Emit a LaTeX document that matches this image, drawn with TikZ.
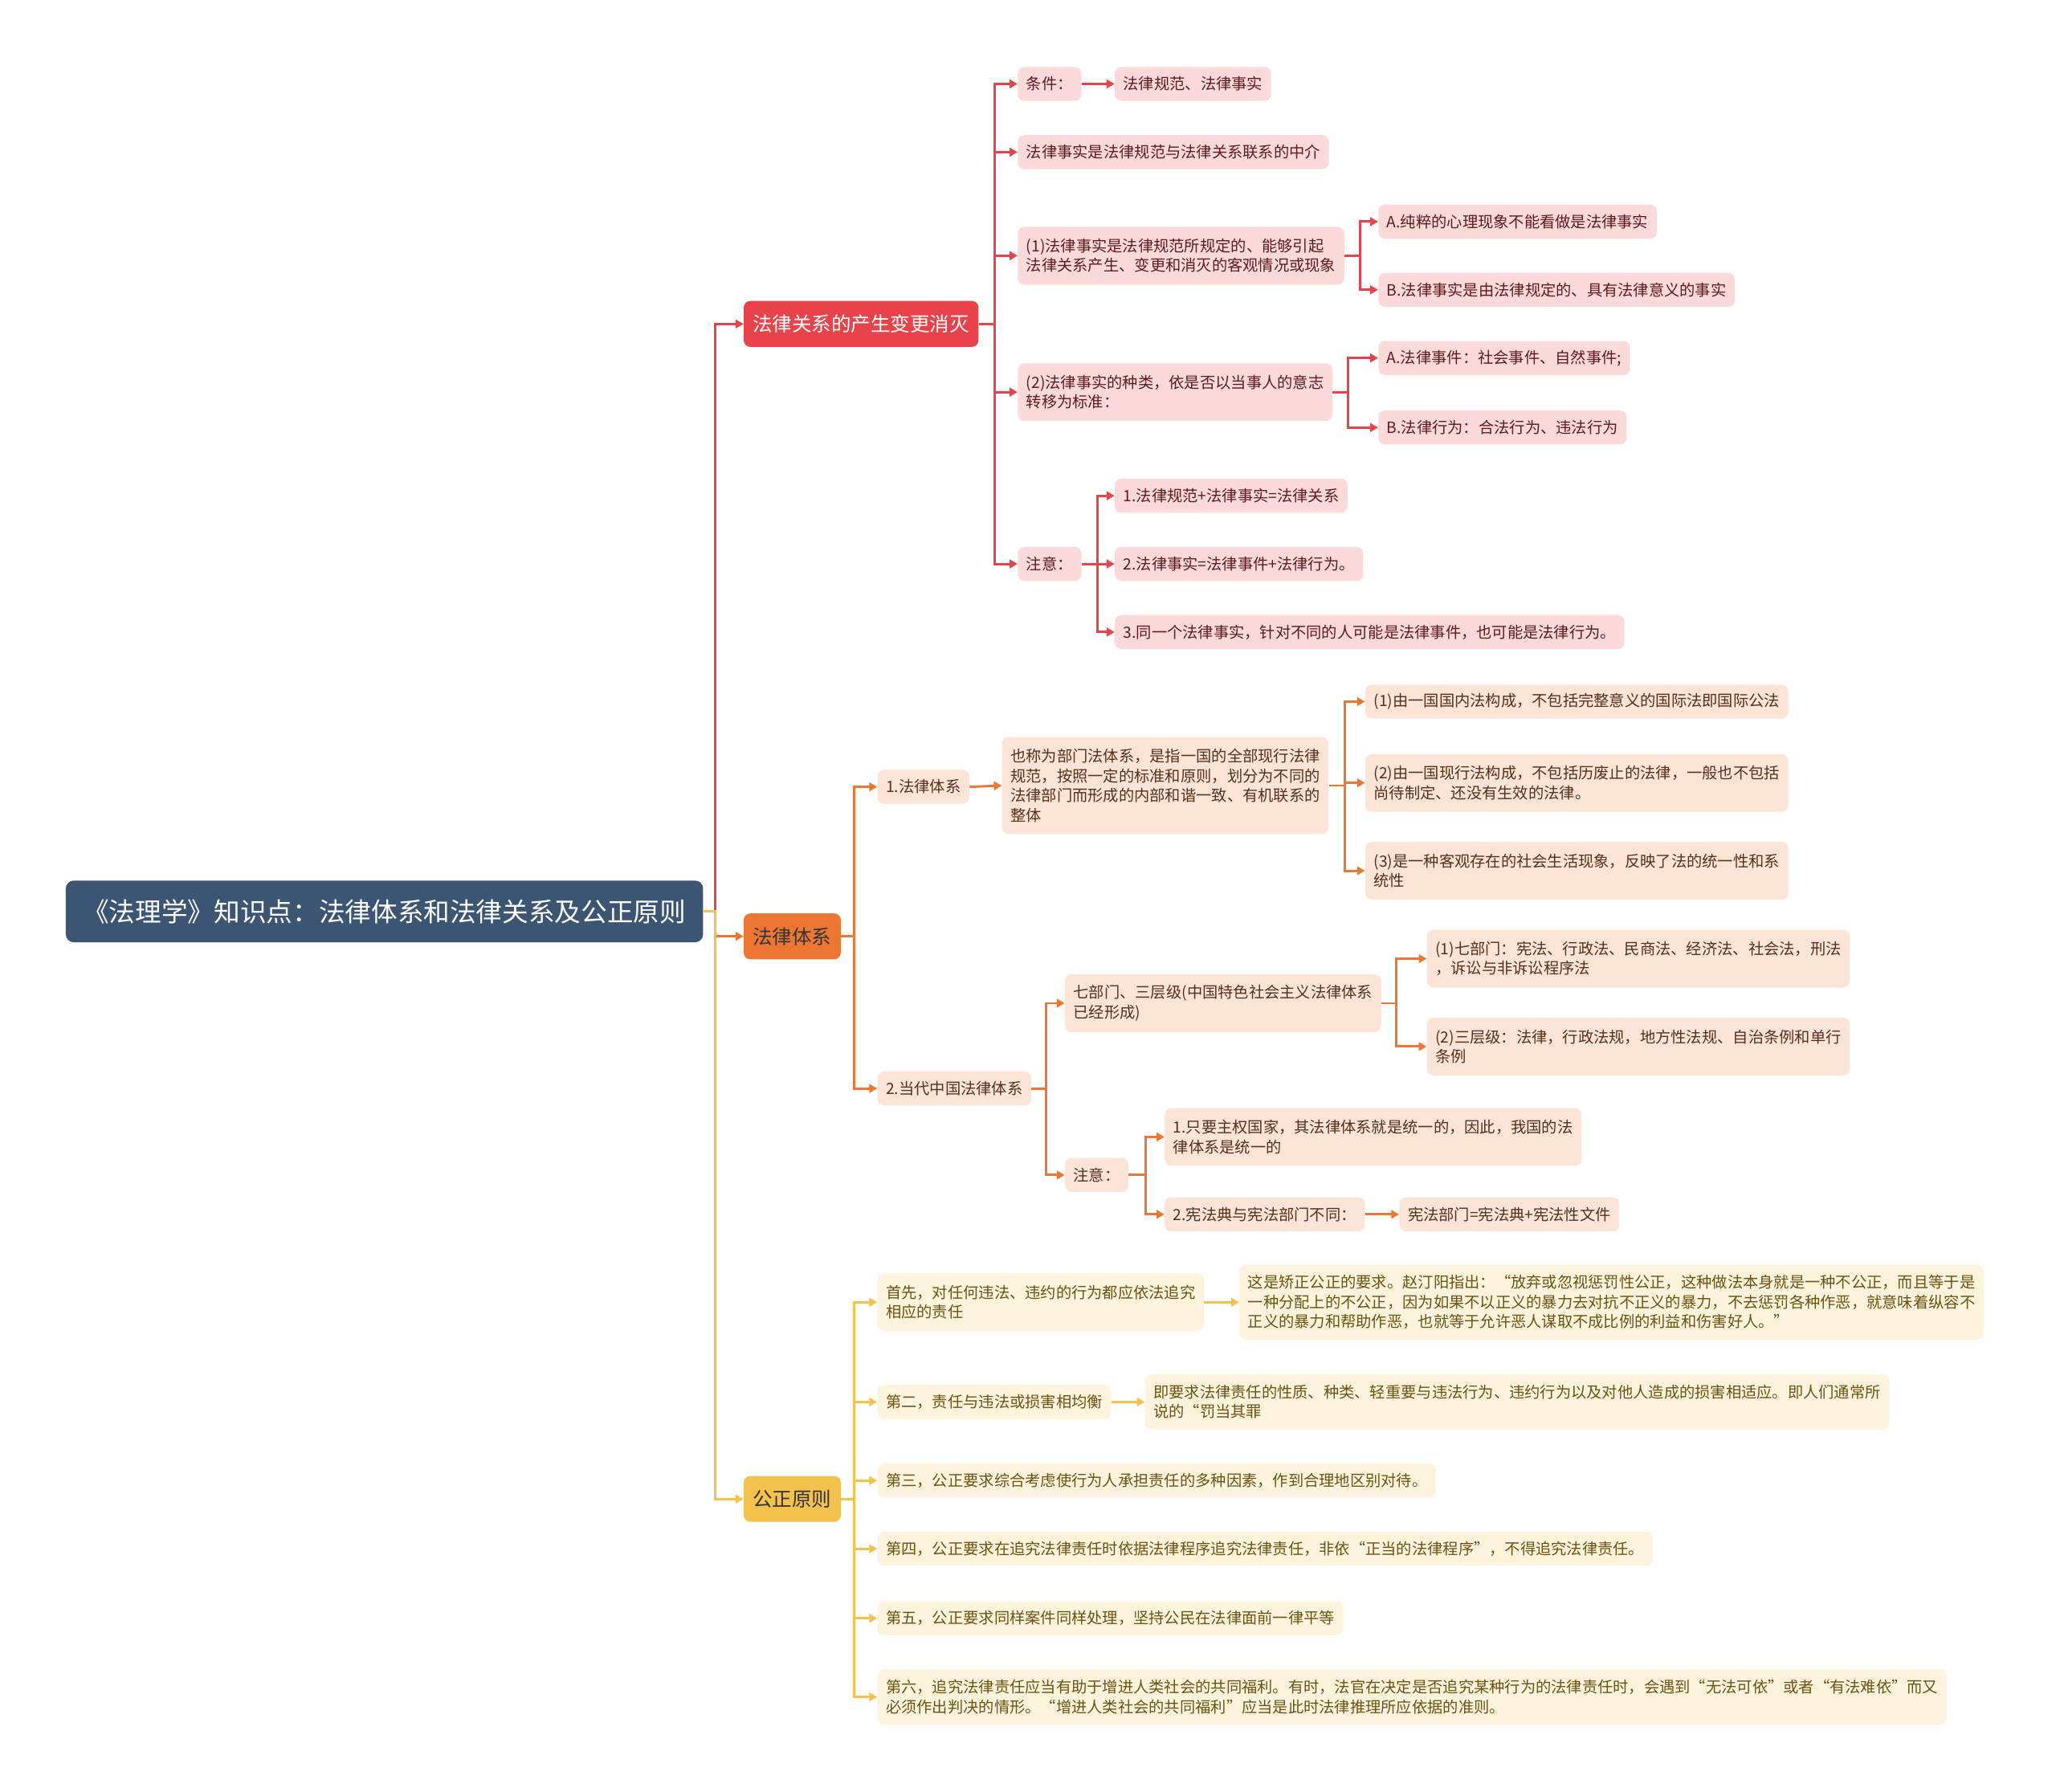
\documentclass[tikz,border=0pt]{standalone}
\usepackage{fontspec}
\usepackage{tikz}
\usetikzlibrary{arrows.meta}
\newfontfamily\cjk{Noto Sans CJK SC}

\definecolor{rootblue}{HTML}{3B5573}
\definecolor{relred}{HTML}{E8434A}
\definecolor{relfill}{HTML}{FCDADA}
\definecolor{reltext}{HTML}{5E1A1C}
\definecolor{sysorange}{HTML}{EE7633}
\definecolor{sysfill}{HTML}{FCE4D6}
\definecolor{systext}{HTML}{55301A}
\definecolor{justyellow}{HTML}{F3C14C}
\definecolor{justfill}{HTML}{FEF3DC}
\definecolor{justtext}{HTML}{6A5312}

\begin{document}
\begin{tikzpicture}[x=1pt, y=-1pt,
    box/.style={rounded corners=5, anchor=west, align=left, inner xsep=6.5, inner ysep=6, minimum height=26,
        font=\cjk\fontsize{11.8}{15}\selectfont},
    rleaf/.style={box, fill=relfill, text=reltext},
    oleaf/.style={box, fill=sysfill, text=systext},
    yleaf/.style={box, fill=justfill, text=justtext},
    topbox/.style={rounded corners=5, anchor=west, inner xsep=7, minimum height=35,
        font=\cjk\fontsize{15}{18}\selectfont},
    rline/.style={draw=relred, line width=1.8, -{Triangle[length=6,width=6.5]}},
    oline/.style={draw=sysorange, line width=1.8, -{Triangle[length=6,width=6.5]}},
    yline/.style={draw=justyellow, line width=1.8, -{Triangle[length=6,width=6.5]}}]
    \useasboundingbox (0,0) rectangle (1568,1366);

    % Central topic
    \node[rounded corners=6, anchor=west, fill=rootblue, text=white, minimum height=47, inner xsep=13,
        font=\cjk\fontsize{20}{24}\selectfont] (root) at (50, 695) {《法理学》知识点：法律体系和法律关系及公正原则};

    % Main branches
    \node[topbox, fill=relred, text=white] (rel) at (567, 247) {法律关系的产生变更消灭};
    \node[topbox, fill=sysorange, text=black!80] (sys) at (567, 714) {法律体系};
    \node[topbox, fill=justyellow, text=black!80] (just) at (567, 1143) {公正原则};

    \draw[rline] (root.east) -- ++(9,0) |- (rel.west);
    \draw[oline] (root.east) -- ++(9,0) |- (sys.west);
    \draw[yline] (root.east) -- ++(9,0) |- (just.west);

    % Legal relations: facts
    \node[rleaf] (cond) at (776, 64) {条件：};
    \node[rleaf] (condval) at (850, 64) {法律规范、法律事实};
    \node[rleaf] (medium) at (776, 116) {法律事实是法律规范与法律关系联系的中介};
    \node[rleaf, minimum height=44] (fdef) at (776, 195) {(1)法律事实是法律规范所规定的、能够引起\\法律关系产生、变更和消灭的客观情况或现象};
    \node[rleaf] (fdefa) at (1051, 169) {A.纯粹的心理现象不能看做是法律事实};
    \node[rleaf] (fdefb) at (1051, 221) {B.法律事实是由法律规定的、具有法律意义的事实};
    \node[rleaf, minimum height=44] (fkind) at (776, 299) {(2)法律事实的种类，依是否以当事人的意志\\转移为标准：};
    \node[rleaf] (fkinda) at (1051, 273) {A.法律事件：社会事件、自然事件;};
    \node[rleaf] (fkindb) at (1051, 326) {B.法律行为：合法行为、违法行为};
    \node[rleaf] (rnote) at (776, 430) {注意：};
    \node[rleaf] (rnote1) at (850, 378) {1.法律规范+法律事实=法律关系};
    \node[rleaf] (rnote2) at (850, 430) {2.法律事实=法律事件+法律行为。};
    \node[rleaf] (rnote3) at (850, 482) {3.同一个法律事实，针对不同的人可能是法律事件，也可能是法律行为。};

    \foreach \c in {cond, medium, fdef, fkind, rnote}
        \draw[rline] (rel.east) -- ++(12,0) |- (\c.west);
    \draw[rline] (cond.east) -- (condval.west);
    \foreach \c in {fdefa, fdefb}
        \draw[rline] (fdef.east) -- ++(12,0) |- (\c.west);
    \foreach \c in {fkinda, fkindb}
        \draw[rline] (fkind.east) -- ++(12,0) |- (\c.west);
    \foreach \c in {rnote1, rnote2, rnote3}
        \draw[rline] (rnote.east) -- ++(12,0) |- (\c.west);

    % Legal system
    \node[oleaf] (lsys) at (669, 600) {1.法律体系};
    \node[oleaf, minimum height=74] (lsysdef) at (764, 599) {也称为部门法体系，是指一国的全部现行法律\\规范，按照一定的标准和原则，划分为不同的\\法律部门而形成的内部和谐一致、有机联系的\\整体};
    \node[oleaf] (lsys1) at (1041, 535) {(1)由一国国内法构成，不包括完整意义的国际法即国际公法};
    \node[oleaf, minimum height=44] (lsys2) at (1041, 597) {(2)由一国现行法构成，不包括历废止的法律，一般也不包括\\尚待制定、还没有生效的法律。};
    \node[oleaf, minimum height=44] (lsys3) at (1041, 664) {(3)是一种客观存在的社会生活现象，反映了法的统一性和系\\统性};
    \node[oleaf] (cnsys) at (669, 830) {2.当代中国法律体系};
    \node[oleaf, minimum height=44] (tiers) at (812, 765) {七部门、三层级(中国特色社会主义法律体系\\已经形成)};
    \node[oleaf, minimum height=44] (seven) at (1088, 731) {(1)七部门：宪法、行政法、民商法、经济法、社会法，刑法\\，诉讼与非诉讼程序法};
    \node[oleaf, minimum height=44] (three) at (1088, 798) {(2)三层级：法律，行政法规，地方性法规、自治条例和单行\\条例};
    \node[oleaf] (onote) at (812, 896) {注意：};
    \node[oleaf, minimum height=44] (onote1) at (888, 867) {1.只要主权国家，其法律体系就是统一的，因此，我国的法\\律体系是统一的};
    \node[oleaf] (onote2) at (888, 926) {2.宪法典与宪法部门不同：};
    \node[oleaf] (constdept) at (1067, 926) {宪法部门=宪法典+宪法性文件};

    \foreach \c in {lsys, cnsys}
        \draw[oline] (sys.east) -- ++(10,0) |- (\c.west);
    \draw[oline] (lsys.east) -- (lsysdef.west);
    \foreach \c in {lsys1, lsys2, lsys3}
        \draw[oline] (lsysdef.east) -- ++(12,0) |- (\c.west);
    \foreach \c in {tiers, onote}
        \draw[oline] (cnsys.east) -- ++(11,0) |- (\c.west);
    \foreach \c in {seven, three}
        \draw[oline] (tiers.east) -- ++(11,0) |- (\c.west);
    \foreach \c in {onote1, onote2}
        \draw[oline] (onote.east) -- ++(13,0) |- (\c.west);
    \draw[oline] (onote2.east) -- (constdept.west);

    % Justice principle
    \node[yleaf, minimum height=44] (first) at (669, 993) {首先，对任何违法、违约的行为都应依法追究\\相应的责任};
    \node[yleaf, minimum height=57] (firstwhy) at (945, 993) {这是矫正公正的要求。赵汀阳指出：“放弃或忽视惩罚性公正，这种做法本身就是一种不公正，而且等于是\\一种分配上的不公正，因为如果不以正义的暴力去对抗不正义的暴力，不去惩罚各种作恶，就意味着纵容不\\正义的暴力和帮助作恶，也就等于允许恶人谋取不成比例的利益和伤害好人。”};
    \node[yleaf] (second) at (669, 1069) {第二，责任与违法或损害相均衡};
    \node[yleaf, minimum height=42] (secondwhy) at (873, 1069) {即要求法律责任的性质、种类、轻重要与违法行为、违约行为以及对他人造成的损害相适应。即人们通常所\\说的“罚当其罪};
    \node[yleaf] (third) at (669, 1129) {第三，公正要求综合考虑使行为人承担责任的多种因素，作到合理地区别对待。};
    \node[yleaf] (fourth) at (669, 1181) {第四，公正要求在追究法律责任时依据法律程序追究法律责任，非依“正当的法律程序”，不得追究法律责任。};
    \node[yleaf] (fifth) at (669, 1234) {第五，公正要求同样案件同样处理，坚持公民在法律面前一律平等};
    \node[yleaf, minimum height=42] (sixth) at (669, 1294) {第六，追究法律责任应当有助于增进人类社会的共同福利。有时，法官在决定是否追究某种行为的法律责任时，会遇到“无法可依”或者“有法难依”而又\\必须作出判决的情形。“增进人类社会的共同福利”应当是此时法律推理所应依据的准则。};

    \foreach \c in {first, second, third, fourth, fifth, sixth}
        \draw[yline] (just.east) -- ++(10,0) |- (\c.west);
    \draw[yline] (first.east) -- (firstwhy.west);
    \draw[yline] (second.east) -- (secondwhy.west);
\end{tikzpicture}
\end{document}
